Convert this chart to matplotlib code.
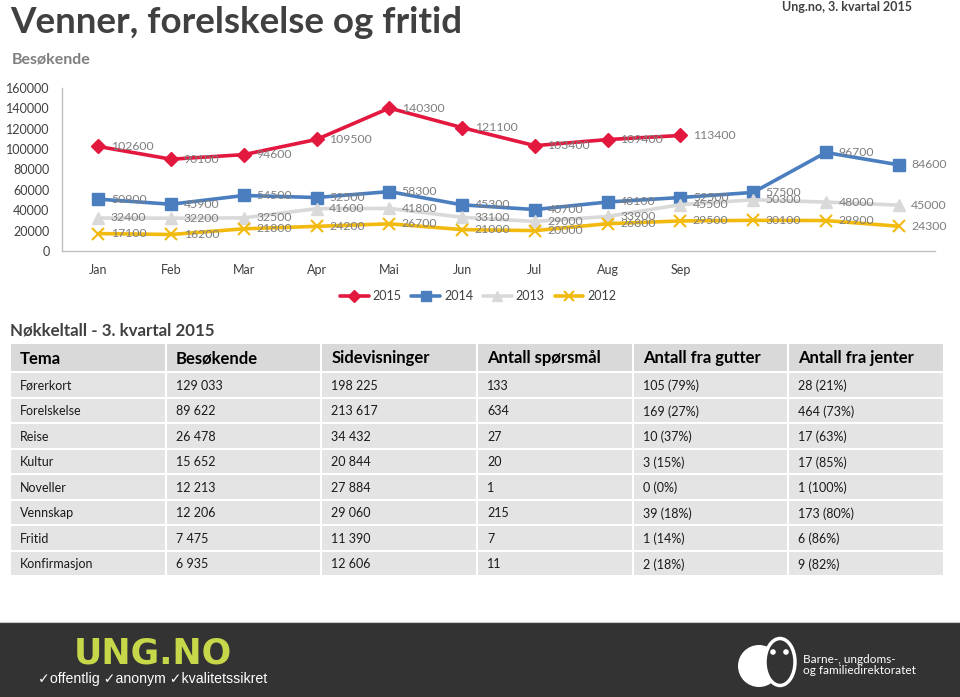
import numpy as np
import matplotlib.pyplot as plt
from matplotlib.patches import Rectangle, Circle, Ellipse

plt.rcParams['font.family'] = ['Lato', 'DejaVu Sans']

# ---- chart data (Besøkende per month) ----
months = ['Jan', 'Feb', 'Mar', 'Apr', 'Mai', 'Jun', 'Jul', 'Aug', 'Sep', 'Okt', 'Nov', 'Des']
month_ticks = ['Jan', 'Feb', 'Mar', 'Apr', 'Mai', 'Jun', 'Jul', 'Aug', 'Sep', '', '', '']
v2015 = [102600, 90100, 94600, 109500, 140300, 121100, 103400, 109400, 113400]
v2014 = [50900, 45900, 54500, 52500, 58300, 45300, 40700, 48100, 52500, 57500, 96700, 84600]
v2013 = [32400, 32200, 32500, 41600, 41800, 33100, 29000, 33900, 45500, 50300, 48000, 45000]
v2012 = [17100, 16200, 21800, 24200, 26700, 21000, 20000, 26800, 29500, 30100, 29900, 24300]

# ---- table data ----
columns = ['Tema', 'Besøkende', 'Sidevisninger', 'Antall spørsmål',
           'Antall fra gutter', 'Antall fra jenter']
tema = ['Førerkort', 'Forelskelse', 'Reise', 'Kultur', 'Noveller',
        'Vennskap', 'Fritid', 'Konfirmasjon']
besokende = ['129 033', '89 622', '26 478', '15 652', '12 213', '12 206', '7 475', '6 935']
sidevisninger = ['198 225', '213 617', '34 432', '20 844', '27 884', '29 060', '11 390', '12 606']
sporsmal = ['133', '634', '27', '20', '1', '215', '7', '11']
gutter = ['105 (79%)', '169 (27%)', '10 (37%)', '3 (15%)', '0 (0%)',
          '39 (18%)', '1 (14%)', '2 (18%)']
jenter = ['28 (21%)', '464 (73%)', '17 (63%)', '17 (85%)', '1 (100%)',
          '173 (80%)', '6 (86%)', '9 (82%)']

W, H = 960, 697
fig = plt.figure(figsize=(W / 100, H / 100), dpi=100)

# background axes in pixel coordinates for text, table and footer
bg = fig.add_axes([0, 0, 1, 1], zorder=0)
bg.set_xlim(0, W)
bg.set_ylim(H, 0)
bg.axis('off')

bg.text(10, 33, 'Venner, forelskelse og fritid', fontsize=26.5, fontweight='bold',
        color='#404040', va='baseline')
bg.text(12, 63, 'Besøkende', fontsize=11.5, fontweight='bold', color='#7f7f7f',
        va='baseline')
bg.text(912, 11, 'Ung.no, 3. kvartal 2015', fontsize=9, fontweight='bold',
        color='#404040', va='baseline', ha='right')

# ---- line chart ----
ax = fig.add_axes([62 / W, (H - 251) / H, (935 - 62) / W, (251 - 88) / H], zorder=2)
ax.patch.set_alpha(0)
x = np.arange(len(months))

series = [
    ('2015', v2015, '#e2183f', 'D', 7, 1.0),
    ('2014', v2014, '#4a7ebf', 's', 9, 1.0),
    ('2013', v2013, '#d9d9d9', '^', 9, 1.0),
    ('2012', v2012, '#f2b90f', 'x', 9, 1.5),
]
handles = []
for name, vals, col, mk, ms, mew in series:
    xs = x[:len(vals)]
    h, = ax.plot(xs, vals, color=col, lw=2.6, marker=mk, ms=ms, mew=mew,
                 mec=col, mfc=col, label=name, zorder=3, solid_capstyle='round')
    handles.append(h)
    for xi, v in zip(xs, vals):
        ax.annotate(str(v), (xi, v), xytext=(9, 0), textcoords='offset points',
                    ha='left', va='center', fontsize=8.8, color='#7f7f7f', zorder=5)

ax.set_xlim(-0.5, len(months) - 0.5)
ax.set_ylim(0, 160000)
ax.set_yticks(np.arange(0, 160001, 20000))
ax.set_xticks(x)
ax.set_xticklabels(month_ticks)
ax.tick_params(axis='both', length=0, labelsize=9, labelcolor='#404040')
ax.tick_params(axis='y', pad=9)
ax.tick_params(axis='x', pad=9)
for s in ['top', 'right']:
    ax.spines[s].set_visible(False)
for s in ['left', 'bottom']:
    ax.spines[s].set_color('#bfbfbf')
    ax.spines[s].set_linewidth(1)

leg = fig.legend(handles=handles, loc='center', bbox_to_anchor=(478 / W, 1 - 296 / H),
                 ncol=4, frameon=False, fontsize=9, handlelength=2.3,
                 columnspacing=0.8, handletextpad=0.3, markerscale=0.85)
for t in leg.get_texts():
    t.set_color('#404040')

# ---- key figures table ----
bg.text(10, 335, 'Nøkkeltall - 3. kvartal 2015', fontsize=12.2, fontweight='bold',
        color='#404040', va='baseline')

x0, x1 = 10, 944
col_w = (x1 - x0) / len(columns)
head_top, head_h = 343, 29
row_h = 25.5
table_cols = [tema, besokende, sidevisninger, sporsmal, gutter, jenter]

for j, name in enumerate(columns):
    cx = x0 + j * col_w
    bg.add_patch(Rectangle((cx + 1, head_top + 1), col_w - 2, head_h - 2,
                           facecolor='#d9d9d9', edgecolor='none'))
    bg.text(cx + 10, head_top + head_h / 2 + 1, name, fontsize=12, fontweight='bold',
            color='black', va='center')
    for i, val in enumerate(table_cols[j]):
        ry = head_top + head_h + i * row_h
        bg.add_patch(Rectangle((cx + 1, ry + 1), col_w - 2, row_h - 2,
                               facecolor='#e4e4e4', edgecolor='none'))
        bg.text(cx + 10, ry + row_h / 2 + 1, val, fontsize=9, color='#1a1a1a',
                va='center')

# ---- footer ----
bg.add_patch(Rectangle((0, 622), W, H - 622, facecolor='#333333', edgecolor='none'))
bg.plot([0, W], [621.5, 621.5], color='#c8c8c8', lw=0.8)

bg.text(153, 653, 'UNG.NO', fontsize=25, fontweight='bold', color='#c6d84a',
        ha='center', va='center', family=['DejaVu Sans'])
bg.text(38, 679, '✓offentlig ✓anonym ✓kvalitetssikret', fontsize=10.2,
        color='white', va='center', family=['Liberation Sans', 'DejaVu Sans'])

bg.add_patch(Circle((759, 666), 21, facecolor='white', edgecolor='none'))
bg.add_patch(Ellipse((780, 662), 30, 47, facecolor='#333333', edgecolor='white', lw=2.5))
bg.add_patch(Circle((773, 652), 2.8, facecolor='white', edgecolor='none'))
bg.add_patch(Circle((786, 652), 2.8, facecolor='white', edgecolor='none'))
bg.text(803, 663, 'Barne-, ungdoms-', fontsize=8.5, color='white', va='baseline')
bg.text(803, 674.5, 'og familiedirektoratet', fontsize=8.5, color='white', va='baseline')

fig.savefig('out.png', dpi=100)
